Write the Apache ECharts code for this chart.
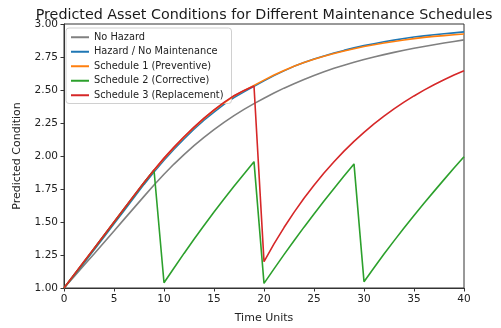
<!DOCTYPE html>
<html>
<head>
<meta charset="utf-8">
<script src="https://cdn.jsdelivr.net/npm/echarts@6/dist/echarts.min.js"></script>
<style>
html,body{margin:0;padding:0;background:#fff;}
#chart{width:501px;height:328px;}
</style>
</head>
<body>
<div id="chart"></div>
<script>
const timeUnits = [0,1,2,3,4,5,6,7,8,9,10,11,12,13,14,15,16,17,18,19,20,21,22,23,24,25,26,27,28,29,30,31,32,33,34,35,36,37,38,39,40];
const noHazard = [1.000,1.086,1.172,1.258,1.345,1.432,1.520,1.607,1.694,1.780,1.862,1.939,2.011,2.078,2.141,2.200,2.255,2.306,2.353,2.397,2.438,2.477,2.514,2.548,2.580,2.610,2.638,2.664,2.688,2.710,2.731,2.750,2.768,2.785,2.801,2.816,2.830,2.843,2.856,2.868,2.880];
const hazardNoMaint = [1.000,1.094,1.190,1.287,1.386,1.486,1.586,1.686,1.785,1.878,1.968,2.051,2.130,2.203,2.271,2.333,2.391,2.443,2.487,2.528,2.569,2.609,2.645,2.679,2.708,2.734,2.758,2.780,2.800,2.819,2.836,2.851,2.865,2.878,2.890,2.901,2.910,2.918,2.926,2.933,2.940];
const schedule1 = [1.000,1.099,1.198,1.297,1.397,1.498,1.598,1.698,1.797,1.890,1.980,2.063,2.142,2.215,2.283,2.345,2.402,2.454,2.495,2.535,2.575,2.613,2.648,2.680,2.708,2.733,2.756,2.777,2.796,2.813,2.829,2.843,2.856,2.868,2.879,2.889,2.899,2.906,2.912,2.918,2.924];
const schedule2 = [1.000,1.099,1.198,1.297,1.397,1.498,1.598,1.698,1.797,1.894,1.040,1.152,1.262,1.369,1.473,1.575,1.674,1.770,1.864,1.957,1.035,1.145,1.253,1.358,1.461,1.561,1.659,1.754,1.848,1.940,1.048,1.154,1.257,1.357,1.454,1.549,1.642,1.732,1.821,1.909,1.995];
const schedule3 = [1.000,1.100,1.200,1.299,1.399,1.500,1.600,1.700,1.799,1.894,1.984,2.067,2.146,2.219,2.287,2.349,2.406,2.457,2.497,2.530,1.200,1.334,1.458,1.573,1.680,1.779,1.871,1.957,2.037,2.111,2.179,2.243,2.302,2.357,2.408,2.455,2.499,2.540,2.578,2.613,2.646];
const seriesNames = ['No Hazard','Hazard / No Maintenance','Schedule 1 (Preventive)','Schedule 2 (Corrective)','Schedule 3 (Replacement)'];
const seriesData = [noHazard, hazardNoMaint, schedule1, schedule2, schedule3];
const colors = ['#808080','#1f77b4','#ff7f0e','#2ca02c','#d62728'];
const xTicks = [0,5,10,15,20,25,30,35,40];
const yTicks = [1.00,1.25,1.50,1.75,2.00,2.25,2.50,2.75,3.00];

const FONT = 'DejaVu Sans';
const chart = echarts.init(document.getElementById('chart'), null, {renderer:'canvas'});
chart.setOption({
  animation:false,
  backgroundColor:'#fff',
  title:{text:'Predicted Asset Conditions for Different Maintenance Schedules', left:259, textAlign:'center', top:3,
    textStyle:{fontFamily:FONT, fontSize:14.3, fontWeight:'normal', color:'#1a1a1a'}},
  grid:{left:64, right:37, top:24, bottom:40, show:true, borderColor:'#333', borderWidth:1, backgroundColor:'transparent',
    outerBoundsMode:'none', containLabel:false},
  legend:{orient:'vertical', left:66, top:28, data:seriesNames, icon:'rect', itemWidth:18, itemHeight:2, itemGap:4,
    backgroundColor:'#fff', borderColor:'#d0d0d0', borderWidth:1, borderRadius:3, padding:[4,8,3,5],
    textStyle:{fontFamily:FONT, fontSize:9.8, color:'#222', lineHeight:10.5}},
  xAxis:{type:'value', min:0, max:40, interval:5, name:'Time Units', nameLocation:'middle', nameGap:25,
    nameTextStyle:{fontFamily:FONT, fontSize:11, color:'#222'},
    axisLine:{lineStyle:{color:'#333', width:1}}, axisTick:{show:true, length:3.5, lineStyle:{color:'#333'}},
    axisLabel:{fontFamily:FONT, fontSize:10.5, color:'#222', margin:6}, splitLine:{show:false}},
  yAxis:{type:'value', min:1, max:3, interval:0.25, name:'Predicted Condition', nameLocation:'middle', nameGap:41,
    nameTextStyle:{fontFamily:FONT, fontSize:11, color:'#222'},
    axisLine:{show:true, lineStyle:{color:'#333', width:1}}, axisTick:{show:true, length:3.5, lineStyle:{color:'#333'}},
    axisLabel:{fontFamily:FONT, fontSize:10.5, color:'#222', margin:6, formatter:v=>v.toFixed(2)}, splitLine:{show:false}},
  series: seriesNames.map((n,i)=>({
    name:n, type:'line', showSymbol:false, symbol:'none', color:colors[i],
    lineStyle:{width:1.6, color:colors[i]},
    data: timeUnits.map((t,j)=>[t, seriesData[i][j]]), z:2+i
  }))
});
</script>
</body>
</html>
